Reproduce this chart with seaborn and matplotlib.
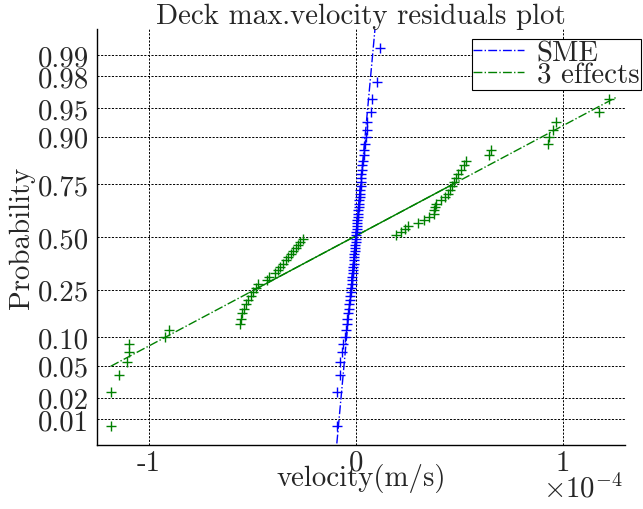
import numpy as np
import matplotlib
matplotlib.use("Agg")
import matplotlib.pyplot as plt
from matplotlib.ticker import FixedLocator
import seaborn as sns
from statistics import NormalDist

# residuals (units of 1e-4 m/s), sorted, 64 samples each
scale = 1e-4
sme = [-0.0918, -0.0900, -0.0773, -0.0749, -0.0676, -0.0628, -0.0531, -0.0483,
       -0.0435, -0.0411, -0.0372, -0.0348, -0.0324, -0.0290, -0.0266, -0.0242,
       -0.0227, -0.0203, -0.0188, -0.0174, -0.0155, -0.0140, -0.0126, -0.0111,
       -0.0097, -0.0082, -0.0068, -0.0053, -0.0039, -0.0029, -0.0014, 0.0000,
       0.0010, 0.0024, 0.0039, 0.0053, 0.0063, 0.0077, 0.0092, 0.0106,
       0.0121, 0.0135, 0.0150, 0.0164, 0.0179, 0.0193, 0.0208, 0.0227,
       0.0242, 0.0256, 0.0271, 0.0280, 0.0290, 0.0324, 0.0372, 0.0401,
       0.0449, 0.0483, 0.0531, 0.0556, 0.0725, 0.0758, 0.1014, 0.1174]
effects3 = [-1.184, -1.181, -1.145, -1.106, -1.097, -1.094, -0.923, -0.903,
            -0.560, -0.553, -0.548, -0.541, -0.531, -0.519, -0.507, -0.495,
            -0.483, -0.473, -0.430, -0.418, -0.391, -0.377, -0.365, -0.353,
            -0.338, -0.326, -0.314, -0.302, -0.290, -0.280, -0.268, -0.256,
            0.193, 0.217, 0.237, 0.251, 0.300, 0.329, 0.353, 0.377,
            0.379, 0.382, 0.386, 0.411, 0.430, 0.444, 0.454, 0.464,
            0.473, 0.483, 0.493, 0.507, 0.522, 0.531, 0.643, 0.652,
            0.926, 0.932, 0.952, 0.966, 1.174, 1.222, 1.240, 1.255]
series_names = ["SME", "3 effects"]
series_colors = ["#0000ff", "#008000"]
prob_ticks = [0.01, 0.02, 0.05, 0.10, 0.25, 0.50, 0.75, 0.90, 0.95, 0.98, 0.99]
prob_labels = ["0.01", "0.02", "0.05", "0.10", "0.25", "0.50",
               "0.75", "0.90", "0.95", "0.98", "0.99"]
x_ticks = [-1, 0, 1]

sns.set_style("white")
plt.rcParams.update({
    "font.family": "serif",
    "font.serif": ["cmr10"],
    "mathtext.fontset": "cm",
    "axes.unicode_minus": False,
    "font.size": 20.8,
})
fs = 20.8

nd = NormalDist()


def to_z(p):
    p = np.asarray(p, dtype=float)
    out = np.full(p.shape, np.nan)
    ok = np.isfinite(p)
    pc = np.clip(p[ok], 1e-12, 1 - 1e-12)
    out[ok] = [nd.inv_cdf(v) for v in pc]
    return out


def from_z(z):
    z = np.asarray(z, dtype=float)
    out = np.full(z.shape, np.nan)
    ok = np.isfinite(z)
    out[ok] = [nd.cdf(v) for v in z[ok]]
    return out


fig = plt.figure(figsize=(6.43, 5.10), dpi=100)
ax = fig.add_axes([0.1509, 0.1255, 0.8211, 0.8157])
ax.set_yscale("function", functions=(to_z, from_z))

n = len(sme)
pos = (np.arange(1, n + 1) - 0.5) / n
handles = []
for vals, name, col in zip([sme, effects3], series_names, series_colors):
    x = np.sort(np.array(vals)) * scale
    sns.scatterplot(x=x, y=pos, marker="+", s=60, color=col, linewidth=1.0,
                    ax=ax, zorder=3)
    # normplot reference line through the quartiles
    q1, q3 = np.percentile(x, [25, 75], method="hazen")
    sig = (q3 - q1) / (nd.inv_cdf(0.75) - nd.inv_cdf(0.25))
    mu = q1 - sig * nd.inv_cdf(0.25)
    xe = np.array([x.min(), x.max()])
    h, = ax.plot(xe, from_z((xe - mu) / sig), ls="-.", color=col, lw=1.0,
                 label=name, zorder=2)
    ax.plot([q1, q3], [0.25, 0.75], ls="-", color=col, lw=1.0, zorder=2)
    handles.append(h)

ax.set_xlim(-1.25 * scale, 1.30 * scale)
ax.set_ylim(0.25 / n, 1 - 0.25 / n)
ax.set_xticks([t * scale for t in x_ticks])
ax.set_xticklabels([str(t) for t in x_ticks])
ax.text(0.995, -0.103, r"$\times10^{-4}$", transform=ax.transAxes,
        ha="right", va="center", fontsize=fs)
ax.set_yticks(prob_ticks)
ax.set_yticklabels(prob_labels)
ax.yaxis.set_minor_locator(FixedLocator([]))

ax.grid(True, color="black", linestyle=(0, (2.2, 1.5)), linewidth=0.7)
for s in ["top", "right"]:
    ax.spines[s].set_visible(False)
for s in ["left", "bottom"]:
    ax.spines[s].set_color("black")
    ax.spines[s].set_linewidth(1.0)
ax.tick_params(direction="in", length=3, width=0.8, labelsize=fs)
ax.tick_params(axis="x", pad=3)
ax.tick_params(axis="y", pad=6)

ax.set_title("Deck max.velocity residuals plot", fontsize=fs, pad=4)
ax.set_xlabel("velocity(m/s)", fontsize=fs, labelpad=-9)
ax.set_ylabel("Probability", fontsize=fs, labelpad=2)

leg = ax.legend(handles=handles, loc="upper right", bbox_to_anchor=(1.03, 0.977),
                frameon=True, fancybox=False, framealpha=1, edgecolor="black",
                fontsize=fs, labelspacing=-0.15, borderpad=0.05, handlelength=1.75,
                handletextpad=0.45, borderaxespad=0.0)
leg.get_frame().set_linewidth(0.8)

fig.savefig("out.png", dpi=100)
